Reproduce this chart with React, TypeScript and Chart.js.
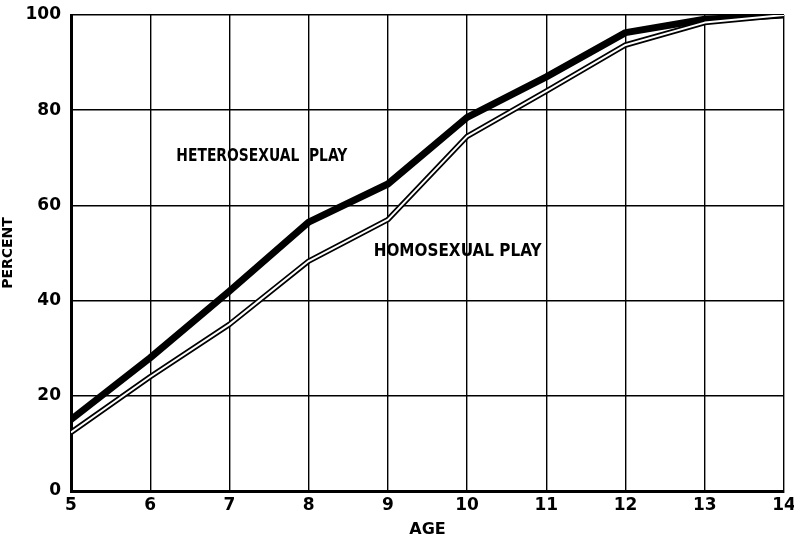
import React, { useEffect, useRef } from "react";
import { Chart, registerables } from "chart.js";

Chart.register(...registerables);

const ages = [5, 6, 7, 8, 9, 10, 11, 12, 13, 14];
const heterosexualPlay = [15, 28, 42, 56.5, 64.5, 78.5, 87, 96.3, 99.1, 100];
const homosexualPlay = [12.3, 24, 35, 48.3, 57, 74.5, 84, 93.7, 98.4, 100];
const yTicks = [0, 20, 40, 60, 80, 100];
const xTicks = [5, 6, 7, 8, 9, 10, 11, 12, 13, 14];
const labelHetero = "HETEROSEXUAL  PLAY";
const labelHomo = "HOMOSEXUAL PLAY";

const FONT = "'DejaVu Sans', sans-serif";

const textLabels = {
  id: "textLabels",
  afterDatasetsDraw(chart: any, _args: any, opts: any) {
    const { ctx, scales } = chart;
    const items = opts.items || [];
    ctx.save();
    ctx.fillStyle = "#000";
    ctx.font = `bold 17px ${FONT}`;
    ctx.textBaseline = "middle";
    ctx.textAlign = "left";
    for (const it of items) {
      const px = scales.x.getPixelForValue(it.x);
      const py = scales.y.getPixelForValue(it.y);
      const w = ctx.measureText(it.text).width;
      const sx = it.width / w;
      ctx.save();
      ctx.translate(px, py);
      ctx.scale(sx, 1);
      ctx.fillText(it.text, 0, 0);
      ctx.restore();
    }
    ctx.restore();
  },
};

export default function App() {
  const ref = useRef<HTMLCanvasElement | null>(null);

  useEffect(() => {
    if (!ref.current) return;
    const heteroData = ages.map((a, i) => ({ x: a, y: heterosexualPlay[i] }));
    const homoData = ages.map((a, i) => ({ x: a, y: homosexualPlay[i] }));
    const chart = new Chart(ref.current, {
      type: "line",
      data: {
        datasets: [
          {
            label: "Homosexual play (inner)",
            data: homoData,
            borderColor: "#ffffff",
            borderWidth: 2,
            pointRadius: 0,
            tension: 0,
            order: 0,
            borderJoinStyle: "round",
          },
          {
            label: "Homosexual play",
            data: homoData,
            borderColor: "#000000",
            borderWidth: 5.5,
            pointRadius: 0,
            tension: 0,
            order: 1,
            borderJoinStyle: "round",
          },
          {
            label: "Heterosexual play",
            data: heteroData,
            borderColor: "#000000",
            borderWidth: 7,
            pointRadius: 0,
            tension: 0,
            order: 2,
            borderJoinStyle: "round",
            borderCapStyle: "round",
          },
        ],
      },
      options: {
        animation: false,
        responsive: false,
        layout: { padding: { top: 15, right: 10, left: 0, bottom: 0 } },
        plugins: {
          legend: { display: false },
          tooltip: { enabled: false },
          textLabels: {
            items: [
              { text: labelHetero, x: 6.33, y: 70.2, width: 171 },
              { text: labelHomo, x: 8.82, y: 50.2, width: 168 },
            ],
          },
        } as any,
        scales: {
          x: {
            type: "linear",
            min: 5,
            max: 14,
            afterBuildTicks: (s: any) => {
              s.ticks = xTicks.map((v) => ({ value: v }));
            },
            afterFit: (s: any) => {
              s.height = 48;
              s.paddingLeft = 0;
              s.paddingRight = 0;
            },
            ticks: {
              color: "#000",
              padding: 4,
              font: { family: FONT, size: 17, weight: "bold" },
              callback: (v: any) => String(v),
            },
            grid: { color: "#000", lineWidth: 1.4, drawTicks: false },
            border: { color: "#000", width: 3 },
            title: {
              display: true,
              text: "AGE",
              color: "#000",
              font: { family: FONT, size: 16, weight: "bold" },
              padding: { top: 0, bottom: 0 },
            },
          },
          y: {
            type: "linear",
            min: 0,
            max: 100,
            afterBuildTicks: (s: any) => {
              s.ticks = yTicks.map((v) => ({ value: v }));
            },
            afterFit: (s: any) => {
              s.width = 71;
              s.paddingTop = 0;
              s.paddingBottom = 0;
            },
            ticks: {
              color: "#000",
              padding: 10,
              font: { family: FONT, size: 17, weight: "bold" },
            },
            grid: { color: "#000", lineWidth: 1.4, drawTicks: false },
            border: { color: "#000", width: 3 },
            title: {
              display: true,
              text: "PERCENT",
              color: "#000",
              font: { family: FONT, size: 14, weight: "bold" },
              padding: { top: 0, bottom: 0 },
            },
          },
        },
      },
      plugins: [textLabels],
    } as any);
    return () => chart.destroy();
  }, []);

  return (
    <div style={{ position: "fixed", left: 0, top: 0, width: 794, height: 539, background: "#fff" }}>
      <canvas ref={ref} width={794} height={539} style={{ display: "block", width: 794, height: 539 }} />
    </div>
  );
}
